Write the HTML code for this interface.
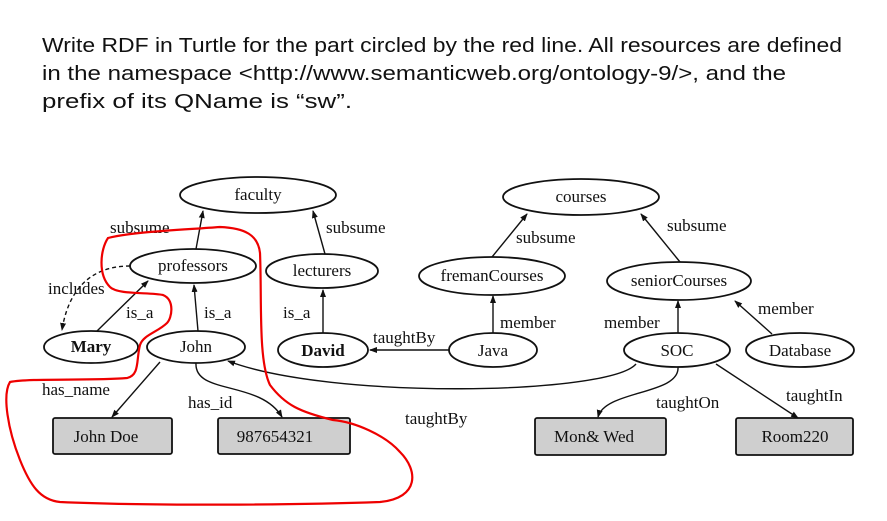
<!DOCTYPE html>
<html><head><meta charset="utf-8"><style>
html,body{margin:0;padding:0;background:#fff;}
svg{display:block;}
.t{font-family:"Liberation Serif",serif;font-size:17px;fill:#111;}
.h{font-family:"Liberation Sans",sans-serif;font-size:20px;fill:#111;}
</style></head><body>
<svg width="887" height="521" viewBox="0 0 887 521" xmlns="http://www.w3.org/2000/svg">
<defs><marker id="a" markerWidth="8" markerHeight="8" refX="7" refY="4" orient="auto" markerUnits="userSpaceOnUse"><path d="M0,1 L8,4 L0,7 Z" fill="#111"/></marker></defs>
<text class="h" x="42" y="52" textLength="800" lengthAdjust="spacingAndGlyphs">Write RDF in Turtle for the part circled by the red line. All resources are defined</text>
<text class="h" x="42" y="80" textLength="744" lengthAdjust="spacingAndGlyphs">in the namespace &lt;http://www.semanticweb.org/ontology-9/&gt;, and the</text>
<text class="h" x="42" y="108" textLength="310" lengthAdjust="spacingAndGlyphs">prefix of its QName is “sw”.</text>
<g fill="none" stroke="#111" stroke-width="1.8">
<ellipse cx="258" cy="195" rx="78" ry="18"/>
<ellipse cx="193" cy="266" rx="63" ry="17"/>
<ellipse cx="322" cy="271" rx="56" ry="17"/>
<ellipse cx="91" cy="347" rx="47" ry="16"/>
<ellipse cx="196" cy="347" rx="49" ry="16"/>
<ellipse cx="323" cy="350" rx="45" ry="17"/>
<ellipse cx="581" cy="197" rx="78" ry="18"/>
<ellipse cx="492" cy="276" rx="73" ry="19"/>
<ellipse cx="679" cy="281" rx="72" ry="19"/>
<ellipse cx="493" cy="350" rx="44" ry="17"/>
<ellipse cx="677" cy="350" rx="53" ry="17"/>
<ellipse cx="800" cy="350" rx="54" ry="17"/>
</g>
<g fill="#cfcfcf" stroke="#111" stroke-width="1.8">
<rect x="53" y="418" width="119" height="36" rx="2"/>
<rect x="218" y="418" width="132" height="36" rx="2"/>
<rect x="535" y="418" width="131" height="37" rx="2"/>
<rect x="736" y="418" width="117" height="37" rx="2"/>
</g>
<g fill="none" stroke="#111" stroke-width="1.4" marker-end="url(#a)">
<line x1="196" y1="249" x2="203" y2="211"/>
<line x1="325" y1="254" x2="313" y2="211"/>
<path d="M130,266 C100,266 70,280 62,330" stroke-dasharray="4,3"/>
<line x1="97" y1="331" x2="148" y2="281"/>
<line x1="198" y1="331" x2="194" y2="285"/>
<line x1="323" y1="333" x2="323" y2="290"/>
<line x1="449" y1="350" x2="370" y2="350"/>
<line x1="160" y1="362" x2="112" y2="417"/>
<path d="M196,363 C194,395 260,380 282,417"/>
<path d="M636,364 C610,395 330,400 228,361"/>
<line x1="492" y1="257" x2="527" y2="214"/>
<line x1="680" y1="262" x2="641" y2="214"/>
<line x1="493" y1="333" x2="493" y2="296"/>
<line x1="678" y1="333" x2="678" y2="301"/>
<line x1="772" y1="334" x2="735" y2="301"/>
<path d="M678,367 C680,395 605,390 598,417"/>
<line x1="716" y1="364" x2="798" y2="418"/>
</g>
<g class="t">
<text x="258" y="200" text-anchor="middle">faculty</text>
<text x="193" y="271" text-anchor="middle">professors</text>
<text x="322" y="276" text-anchor="middle">lecturers</text>
<text x="91" y="352" text-anchor="middle" font-weight="bold">Mary</text>
<text x="196" y="352" text-anchor="middle">John</text>
<text x="323" y="356" text-anchor="middle" font-weight="bold">David</text>
<text x="581" y="202" text-anchor="middle">courses</text>
<text x="492" y="281" text-anchor="middle">fremanCourses</text>
<text x="679" y="286" text-anchor="middle">seniorCourses</text>
<text x="493" y="356" text-anchor="middle">Java</text>
<text x="677" y="356" text-anchor="middle">SOC</text>
<text x="800" y="356" text-anchor="middle">Database</text>
<text x="106" y="442" text-anchor="middle">John Doe</text>
<text x="275" y="442" text-anchor="middle">987654321</text>
<text x="594" y="442" text-anchor="middle">Mon&amp; Wed</text>
<text x="795" y="442" text-anchor="middle">Room220</text>
<text x="110" y="233">subsume</text>
<text x="326" y="233">subsume</text>
<text x="48" y="294">includes</text>
<text x="126" y="318">is_a</text>
<text x="204" y="318">is_a</text>
<text x="283" y="318">is_a</text>
<text x="373" y="343">taughtBy</text>
<text x="42" y="395">has_name</text>
<text x="188" y="408">has_id</text>
<text x="405" y="424">taughtBy</text>
<text x="516" y="243">subsume</text>
<text x="667" y="231">subsume</text>
<text x="500" y="328">member</text>
<text x="604" y="328">member</text>
<text x="758" y="314">member</text>
<text x="656" y="408">taughtOn</text>
<text x="786" y="401">taughtIn</text>
</g>
<path d="M220,227 C180,230 130,232 108,238 C100,250 98,275 110,287 C118,295 150,292 163,295 C175,300 172,318 167,323 C158,332 143,335 140,345 C136,360 140,375 127,378 C90,381 30,378 10,382 C2,395 8,430 20,460 C30,485 40,500 60,502 C150,506 300,505 380,502 C420,498 418,470 400,452 C385,435 355,422 333,420 C300,412 285,405 270,385 C258,360 262,300 260,253 C258,235 245,228 220,227 Z" fill="none" stroke="#e00" stroke-width="2.2"/>
</svg>
</body></html>
